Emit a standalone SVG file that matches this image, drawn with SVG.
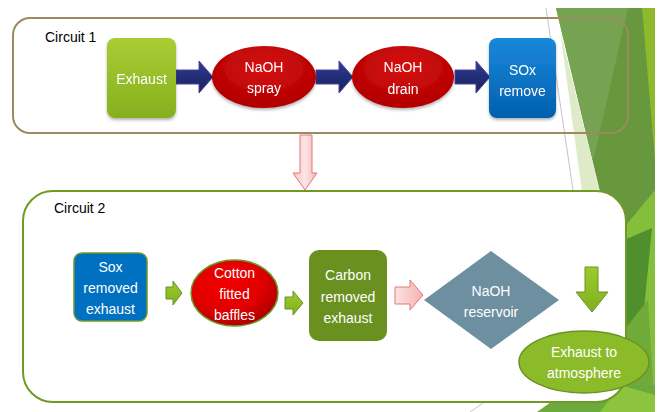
<svg xmlns="http://www.w3.org/2000/svg" width="657" height="412" viewBox="0 0 657 412">
<defs>
<style>
.lbl{font-family:"Liberation Sans",Arial,sans-serif;font-size:14px;fill:#000}
.wt{font-family:"Liberation Sans",Arial,sans-serif;font-size:14px;fill:#fff;text-anchor:middle}
.navy{fill:url(#gNavy);stroke:#5a3c9c;stroke-width:1}
.garr{fill:url(#gGreen);stroke:#6a9126;stroke-width:1}
.parr{fill:url(#gPink);stroke:#e07878;stroke-width:1}
</style>
<linearGradient id="gExh" x1="0" y1="0" x2="0" y2="1"><stop offset="0" stop-color="#a8cd34"/><stop offset="1" stop-color="#86b01e"/></linearGradient>
<linearGradient id="gBlue" x1="0" y1="0" x2="0" y2="1"><stop offset="0" stop-color="#1a88da"/><stop offset="1" stop-color="#0060ae"/></linearGradient>
<radialGradient id="gRed" cx="0.5" cy="0.35" r="0.65"><stop offset="0" stop-color="#d81010"/><stop offset="1" stop-color="#b00000"/></radialGradient>
<radialGradient id="gRed2" cx="0.4" cy="0.35" r="0.7"><stop offset="0" stop-color="#f20000"/><stop offset="0.6" stop-color="#e00000"/><stop offset="1" stop-color="#a80000"/></radialGradient>
<linearGradient id="gNavy" x1="0" y1="0" x2="0" y2="1"><stop offset="0" stop-color="#2c3d90"/><stop offset="1" stop-color="#18215e"/></linearGradient>
<linearGradient id="gGreen" x1="0" y1="0" x2="0" y2="1"><stop offset="0" stop-color="#9ccb2c"/><stop offset="1" stop-color="#80b020"/></linearGradient>
<linearGradient id="gPink" x1="0" y1="0" x2="1" y2="0"><stop offset="0" stop-color="#fde4e4"/><stop offset="1" stop-color="#f6b0b0"/></linearGradient>
<linearGradient id="gPinkV" x1="0" y1="0" x2="1" y2="0"><stop offset="0" stop-color="#f8c0c0"/><stop offset="0.5" stop-color="#fde6e6"/><stop offset="1" stop-color="#f6b4b4"/></linearGradient>
<filter id="sh" x="-20%" y="-20%" width="140%" height="150%"><feDropShadow dx="0" dy="2" stdDeviation="1.5" flood-color="#000" flood-opacity="0.3"/></filter>
</defs>
<rect x="0" y="0" width="657" height="412" fill="#fff"/>
<g id="background">
<polygon points="556,8 655,8 655,412 600,412 600,192" fill="#67983d"/>
<polygon points="560,30 600,192 582,192" fill="#dfeac8"/>
<polygon points="556,8 628,8 593,161" fill="#76a351"/>
<polygon points="642,8 655,8 655,160" fill="#8cba2c"/>
<polygon points="622,230 655,190 655,412 610,412" fill="#84bf3c"/>
<polygon points="624,240 652,228 642,330 624,330" fill="#4f8f2e"/>
<polygon points="624,330 648,300 655,412 600,412" fill="#70ab3a"/>
<polygon points="537,412 575,385 655,385 655,412" fill="#6aa93a"/>
<polygon points="600,412 620,385 655,395 655,412" fill="#8cc43f"/>
<line x1="546" y1="8" x2="573" y2="190" stroke="#c4c4c4" stroke-width="1"/>
<line x1="470" y1="412" x2="486" y2="401" stroke="#c4c4c4" stroke-width="1"/>
</g>
<g id="circuit1">
<rect x="13" y="18" width="615" height="115" rx="17" fill="none" stroke="#9a8b60" stroke-width="2"/>
<text class="lbl" x="45" y="42">Circuit 1</text>
</g>
<g id="circuit2">
<rect x="23" y="191" width="603" height="211" rx="30" fill="#fff" stroke="#6f9a28" stroke-width="2"/>
<text class="lbl" x="54" y="213">Circuit 2</text>
</g>
<g id="connectors">
<polygon class="navy" points="176,70 199,70 199,61 213,77 199,93 199,84 176,84"/>
<polygon class="navy" points="316,70 339,70 339,61 353,77 339,93 339,84 316,84"/>
<polygon class="navy" points="455,70 476,70 476,61 490,77 476,93 476,84 455,84"/>
<polygon points="300,135 312,135 312,173 317,173 305,190 293,173 300,173" fill="url(#gPinkV)" stroke="#e07878" stroke-width="1"/>
<polygon class="garr" points="166,287 173,287 173,281 182,293 173,305 173,299 166,299"/>
<polygon class="garr" points="285,297 293,297 293,291 303,303 293,315 293,309 285,309"/>
<polygon class="parr" points="395,287 410,287 410,280 423,295 410,310 410,304 395,304"/>
<polygon class="garr" points="585,267 598,267 598,292 608,292 592,312 576,292 585,292"/>
</g>
<g id="exhaust" filter="url(#sh)">
<rect x="107" y="38" width="69" height="80" rx="8" fill="url(#gExh)"/>
<text class="wt" x="141.5" y="84">Exhaust</text>
</g>
<g id="naoh-spray" filter="url(#sh)">
<ellipse cx="264" cy="77" rx="52" ry="31" fill="url(#gRed)"/>
<text class="wt" x="264" y="72">NaOH</text>
<text class="wt" x="264" y="93">spray</text>
</g>
<g id="naoh-drain" filter="url(#sh)">
<ellipse cx="403" cy="77" rx="51" ry="31" fill="url(#gRed)"/>
<text class="wt" x="403" y="72">NaOH</text>
<text class="wt" x="403" y="94">drain</text>
</g>
<g id="sox-remove" filter="url(#sh)">
<rect x="489" y="38" width="67" height="80" rx="8" fill="url(#gBlue)"/>
<text class="wt" x="522.5" y="75">SOx</text>
<text class="wt" x="522.5" y="96">remove</text>
</g>
<g id="sox-removed-exhaust">
<rect x="74" y="253" width="73" height="68" rx="8" fill="#0070c0" stroke="#6a9a2a" stroke-width="1.5"/>
<text class="wt" x="110.5" y="272">Sox</text>
<text class="wt" x="110.5" y="293">removed</text>
<text class="wt" x="110.5" y="314">exhaust</text>
</g>
<g id="cotton-baffles">
<ellipse cx="234.5" cy="293" rx="43.5" ry="33" fill="url(#gRed2)" stroke="#6a9a2a" stroke-width="1.5"/>
<text class="wt" x="234.5" y="278">Cotton</text>
<text class="wt" x="234.5" y="299">fitted</text>
<text class="wt" x="234.5" y="320">baffles</text>
</g>
<g id="carbon-removed">
<rect x="309" y="250" width="78" height="91" rx="10" fill="#6a901f"/>
<text class="wt" x="348" y="280">Carbon</text>
<text class="wt" x="348" y="302">removed</text>
<text class="wt" x="348" y="323">exhaust</text>
</g>
<g id="naoh-reservoir">
<polygon points="424,300 491,251 559,300 491,349" fill="#6d8f9f"/>
<text class="wt" x="491" y="296">NaOH</text>
<text class="wt" x="491" y="317">reservoir</text>
</g>
<g id="exhaust-atmosphere">
<ellipse cx="584" cy="362" rx="65" ry="31" fill="#8cbb2a" stroke="#6c9226" stroke-width="1.5"/>
<text class="wt" x="584" y="357">Exhaust to</text>
<text class="wt" x="584" y="378">atmosphere</text>
</g>
</svg>
